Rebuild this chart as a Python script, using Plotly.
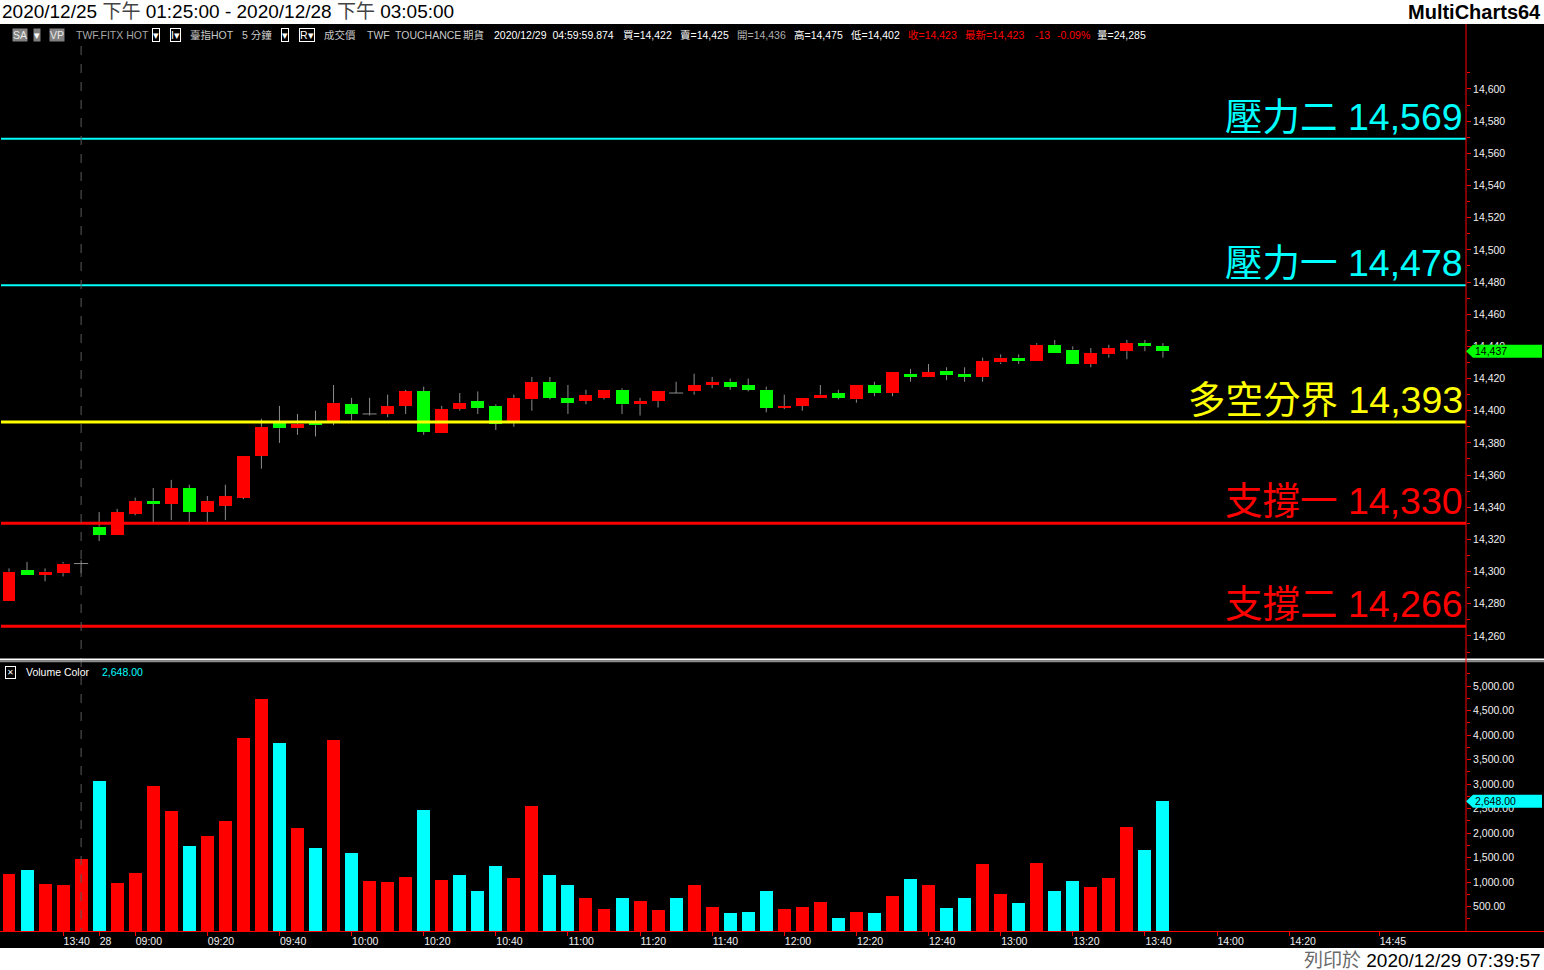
import plotly.graph_objects as go

W, H = 1544, 970

# ---------------- data ----------------
opens = [14282, 14301, 14298, 14299, 14305, 14328, 14323, 14336, 14344, 14342,
         14352, 14337, 14341, 14346, 14372, 14393, 14389, 14393, 14393, 14404,
         14398, 14398, 14403, 14412, 14386, 14401, 14406, 14403, 14393, 14407,
         14418, 14408, 14406, 14408, 14413, 14404, 14406, 14411, 14412, 14416,
         14418, 14416, 14413, 14402, 14403, 14408, 14411, 14407, 14416, 14411,
         14423, 14421, 14425, 14423, 14421, 14430, 14433, 14431, 14441, 14438,
         14429, 14435, 14437, 14442, 14440]
highs = [14302, 14306, 14302, 14306, 14307, 14337, 14339, 14346, 14352, 14357,
         14354, 14347, 14354, 14372, 14395, 14403, 14398, 14400, 14416, 14408,
         14408, 14410, 14413, 14415, 14403, 14411, 14412, 14404, 14410, 14421,
         14421, 14416, 14413, 14413, 14414, 14408, 14412, 14418, 14423, 14421,
         14420, 14420, 14415, 14410, 14408, 14416, 14413, 14416, 14418, 14424,
         14426, 14429, 14427, 14427, 14433, 14435, 14435, 14442, 14444, 14440,
         14439, 14441, 14444, 14444, 14442]
lows = [14282, 14298, 14294, 14297, 14299, 14319, 14323, 14335, 14330, 14332,
        14330, 14330, 14332, 14345, 14364, 14380, 14385, 14384, 14391, 14394,
        14397, 14396, 14398, 14385, 14386, 14400, 14398, 14388, 14390, 14400,
        14407, 14398, 14404, 14407, 14398, 14397, 14402, 14411, 14410, 14414,
        14413, 14412, 14399, 14401, 14400, 14408, 14407, 14405, 14409, 14409,
        14418, 14421, 14419, 14418, 14418, 14429, 14429, 14431, 14436, 14429,
        14427, 14433, 14432, 14437, 14433]
closes = [14300, 14298, 14300, 14305, 14305, 14323, 14337, 14344, 14342, 14352,
          14337, 14344, 14347, 14372, 14390, 14389, 14392, 14391, 14405, 14398,
          14398, 14403, 14412, 14387, 14401, 14405, 14402, 14392, 14408, 14418,
          14408, 14405, 14410, 14413, 14404, 14406, 14412, 14411, 14416, 14418,
          14415, 14413, 14402, 14403, 14408, 14410, 14408, 14416, 14411, 14424,
          14421, 14424, 14422, 14421, 14431, 14433, 14431, 14441, 14436, 14429,
          14436, 14439, 14442, 14440, 14437]
volumes = [1170, 1245, 960, 940, 1470, 3063, 980, 1184, 2960, 2450,
           1735, 1940, 2245, 3940, 4735, 3840, 2100, 1695, 3900, 1590,
           1020, 1000, 1100, 2470, 1040, 1140, 816, 1327, 1080, 2550,
           1140, 940, 673, 449, 673, 612, 428, 673, 940, 490,
           367, 388, 816, 449, 490, 592, 265, 388, 367, 714,
           1060, 940, 470, 673, 1367, 755, 571, 1387, 816, 1020,
           898, 1080, 2122, 1652, 2648]
# volume bar direction as coloured in the picture (1 = up/red, 0 = down/cyan)
vol_up = [1, 0, 1, 1, 1, 0, 1, 1, 1, 1,
          0, 1, 1, 1, 1, 0, 1, 0, 1, 0,
          1, 1, 1, 0, 1, 0, 0, 0, 1, 1,
          0, 0, 1, 1, 0, 1, 1, 0, 1, 1,
          0, 0, 0, 1, 1, 1, 0, 1, 0, 1,
          0, 1, 0, 0, 1, 1, 0, 1, 0, 0,
          1, 1, 1, 0, 0]
tick_bars = [3, 5, 7, 11, 15, 19, 23, 27, 31, 35, 39, 43, 47, 51, 55, 59, 63, 67, 71, 76]
tick_labels = ["13:40", "28", "09:00", "09:20", "09:40", "10:00", "10:20", "10:40",
               "11:00", "11:20", "11:40", "12:00", "12:20", "12:40", "13:00", "13:20",
               "13:40", "14:00", "14:20", "14:45"]
level_names = ["壓力二", "壓力一", "多空分界", "支撐一", "支撐二"]
level_values = [14569, 14478, 14393, 14330, 14266]
last_price = 14437
last_volume = 2648
session_break_bar = 4

# ---------------- styling helpers ----------------
RED, GREEN, CYAN, YELLOW = "#FF0000", "#00FF00", "#00FFFF", "#FFFF00"
WICK = "#8C8C8C"
level_colors = [CYAN, CYAN, YELLOW, RED, RED]
level_widths = [2, 2, 3, 3, 3]
FONT = "Liberation Sans, Arial, Noto Sans CJK TC, sans-serif"


def px(x):
    return x / W


def py(y):
    return 1 - y / H


n = len(opens)
idx = list(range(n))
spacing = 18.03
x_lo = -9 / spacing
x_hi = x_lo + 1466 / spacing
price_top_px, price_bot_px = 60, 658
price_range = [14246.3, 14618.0]
vol_top_px, vol_bot_px = 663, 931
vol_range = [0, 5474]
body_w = 0.72

fig = go.Figure()

# wicks (drawn as two segments so bodies are not crossed)
wx, wy = [], []
for i in idx:
    top, bot = max(opens[i], closes[i]), min(opens[i], closes[i])
    if highs[i] > top:
        wx += [i, i, None]
        wy += [top, highs[i], None]
    if lows[i] < bot:
        wx += [i, i, None]
        wy += [lows[i], bot, None]
    if opens[i] == closes[i]:
        wx += [i - 0.39, i + 0.39, None]
        wy += [opens[i], opens[i], None]
fig.add_trace(go.Scatter(x=wx, y=wy, mode="lines", line=dict(color=WICK, width=1),
                         hoverinfo="skip", showlegend=False, xaxis="x", yaxis="y"))

bx, bbase, bh, bc = [], [], [], []
for i in idx:
    if opens[i] != closes[i]:
        bx.append(i)
        bbase.append(min(opens[i], closes[i]))
        bh.append(abs(closes[i] - opens[i]))
        bc.append(RED if closes[i] > opens[i] else GREEN)
fig.add_trace(go.Bar(x=bx, y=bh, base=bbase, width=body_w, marker=dict(color=bc, line=dict(width=0)),
                     showlegend=False, xaxis="x", yaxis="y"))

vcol = [RED if u else CYAN for u in vol_up]
fig.add_trace(go.Bar(x=idx, y=volumes, width=body_w, marker=dict(color=vcol, line=dict(width=0)),
                     showlegend=False, xaxis="x2", yaxis="y2"))

shapes = [
    dict(type="rect", xref="paper", yref="paper", x0=0, x1=1, y0=py(948), y1=py(24),
         fillcolor="black", line=dict(width=0), layer="below"),
]
for v, c, w in zip(level_values, level_colors, level_widths):
    shapes.append(dict(type="line", xref="paper", yref="y", x0=px(1), x1=px(1466), y0=v, y1=v,
                       line=dict(color=c, width=w)))
shapes += [
    dict(type="line", xref="x2", yref="paper", x0=session_break_bar, x1=session_break_bar,
         y0=py(46), y1=py(931), line=dict(color="#5A5A5A", width=1, dash="dash")),
    dict(type="line", xref="paper", yref="paper", x0=0, x1=1, y0=py(659.5), y1=py(659.5),
         line=dict(color="#FFFFFF", width=2)),
    dict(type="line", xref="paper", yref="paper", x0=0, x1=1, y0=py(661.5), y1=py(661.5),
         line=dict(color="#8A8A8A", width=1.5)),
    dict(type="line", xref="paper", yref="paper", x0=px(1466), x1=px(1466), y0=py(931), y1=py(24),
         line=dict(color=RED, width=1)),
    dict(type="line", xref="paper", yref="paper", x0=0, x1=1, y0=py(931.5), y1=py(931.5),
         line=dict(color=RED, width=1)),
]

# last price / last volume tags (half height 6.5 px, converted to axis units)
ph = 6.5 * (price_range[1] - price_range[0]) / (price_bot_px - price_top_px)
vh = 6.5 * (vol_range[1] - vol_range[0]) / (vol_bot_px - vol_top_px)


def tag_path(yc, hh):
    return (f"M {px(1466)},{yc} L {px(1473)},{yc + hh} L {px(1542)},{yc + hh} "
            f"L {px(1542)},{yc - hh} L {px(1473)},{yc - hh} Z")


shapes.append(dict(type="path", xref="paper", yref="y", path=tag_path(last_price, ph),
                   fillcolor=GREEN, line=dict(width=0), layer="above"))
shapes.append(dict(type="path", xref="paper", yref="y2", path=tag_path(last_volume, vh),
                   fillcolor=CYAN, line=dict(width=0), layer="above"))

ann = []
# title bar
ann.append(dict(x=0, y=py(12), xref="paper", yref="paper", xanchor="left", yanchor="middle",
                text="2020/12/25 <span style='color:#444444'>下午</span> 01:25:00 - 2020/12/28 "
                     "<span style='color:#444444'>下午</span> 03:05:00",
                font=dict(family=FONT, size=19, color="black"), showarrow=False))
ann.append(dict(x=px(1543), y=py(12), xref="paper", yref="paper", xanchor="right", yanchor="middle",
                text="<b>MultiCharts64</b>", font=dict(family=FONT, size=20, color="black"),
                showarrow=False))
ann.append(dict(x=px(1543), y=py(960), xref="paper", yref="paper", xanchor="right", yanchor="middle",
                text="<span style='color:#6A6A6A'>列印於</span> 2020/12/29 07:39:57",
                font=dict(family=FONT, size=19, color="black"), showarrow=False))

# info bar
info = [
    (12, "SA", "#E8E8E8", "#808080", None),
    (33, "▾", "#FFFFFF", "#808080", None),
    (49, "VP", "#E8E8E8", "#808080", None),
    (75, "TWF.FITX HOT", "#A8A8A8", None, None),
    (152, "▾", "#FFFFFF", "#000000", "#FFFFFF"),
    (170, "I▾", "#FFFFFF", "#000000", "#FFFFFF"),
    (189, "臺指HOT", "#C8C8C8", None, None),
    (241, "5 分鐘", "#C8C8C8", None, None),
    (281, "▾", "#FFFFFF", "#000000", "#FFFFFF"),
    (299, "R▾", "#FFFFFF", "#000000", "#FFFFFF"),
    (323, "成交價", "#C8C8C8", None, None),
    (366, "TWF", "#C8C8C8", None, None),
    (394, "TOUCHANCE", "#C8C8C8", None, None),
    (462, "期貨", "#C8C8C8", None, None),
    (493, "2020/12/29  04:59:59.874", "#FFFFFF", None, None),
    (622, "買=14,422", "#FFFFFF", None, None),
    (679, "賣=14,425", "#FFFFFF", None, None),
    (736, "開=14,436", "#B0B0B0", None, None),
    (793, "高=14,475", "#FFFFFF", None, None),
    (850, "低=14,402", "#FFFFFF", None, None),
    (907, "收=14,423", RED, None, None),
    (964, "最新=14,423", RED, None, None),
    (1034, "-13", RED, None, None),
    (1056, "-0.09%", RED, None, None),
    (1096, "量=24,285", "#FFFFFF", None, None),
]
for x, t, c, bg, bd in info:
    a = dict(x=px(x), y=py(35), xref="paper", yref="paper", xanchor="left", yanchor="middle",
             text=t, font=dict(family=FONT, size=10.5, color=c), showarrow=False, borderpad=0)
    if bg:
        a["bgcolor"] = bg
    if bd:
        a["bordercolor"] = bd
        a["borderwidth"] = 1
    ann.append(a)

# level labels
for name, v, c in zip(level_names, level_values, level_colors):
    ann.append(dict(x=px(1464), y=v, xref="paper", yref="y", xanchor="right", yanchor="bottom",
                    yshift=-3, borderpad=0,
                    text=f"<span style='font-family:Noto Sans CJK TC'>{name}</span> {v:,}",
                    font=dict(family=FONT, size=37.5, color=c), showarrow=False))

# tag texts
ann.append(dict(x=px(1474), y=last_price, xref="paper", yref="y", xanchor="left", yanchor="middle",
                text=f"{last_price:,}", font=dict(family=FONT, size=10.5, color="#000000"),
                showarrow=False, borderpad=0))
ann.append(dict(x=px(1474), y=last_volume, xref="paper", yref="y2", xanchor="left", yanchor="middle",
                text=f"{last_volume:,.2f}", font=dict(family=FONT, size=10.5, color="#000000"),
                showarrow=False, borderpad=0))

# volume panel header
ann.append(dict(x=px(5), y=py(672), xref="paper", yref="paper", xanchor="left", yanchor="middle",
                text="✕", font=dict(family="DejaVu Sans", size=8, color="#FFFFFF"), showarrow=False,
                bordercolor="#FFFFFF", borderwidth=1, borderpad=1))
ann.append(dict(x=px(24), y=py(672), xref="paper", yref="paper", xanchor="left", yanchor="middle",
                text="Volume Color", font=dict(family=FONT, size=10.5, color="#FFFFFF"), showarrow=False))
ann.append(dict(x=px(100), y=py(672), xref="paper", yref="paper", xanchor="left", yanchor="middle",
                text=f"{last_volume:,.2f}", font=dict(family=FONT, size=10.5, color=CYAN),
                showarrow=False))

axis_font = dict(family=FONT, size=10.5, color="#F0F0F0")
fig.update_layout(
    width=W, height=H, margin=dict(l=0, r=0, t=0, b=0),
    paper_bgcolor="white", plot_bgcolor="black",
    barmode="overlay", bargap=0, showlegend=False, hovermode=False,
    xaxis=dict(domain=[0, px(1466)], range=[x_lo, x_hi], anchor="y", matches="x2",
               showticklabels=False, showgrid=False, zeroline=False, showline=False, ticks=""),
    yaxis=dict(domain=[py(price_bot_px), py(price_top_px)], range=price_range, anchor="x", side="right",
               showgrid=False, zeroline=False, showline=False, ticks="outside", ticklen=4,
               tickcolor=RED, tickwidth=1, tick0=14000, dtick=20, tickformat=",d",
               tickfont=axis_font,
               minor=dict(ticks="outside", ticklen=3, tickcolor=RED, dtick=10, showgrid=False)),
    xaxis2=dict(domain=[0, px(1466)], range=[x_lo, x_hi], anchor="y2",
                tickmode="array", tickvals=tick_bars, ticktext=tick_labels,
                ticks="outside", ticklen=4, tickcolor=RED, ticklabelposition="outside right",
                tickfont=dict(family=FONT, size=10.5, color="#F0F0F0"),
                showgrid=False, zeroline=False, showline=False),
    yaxis2=dict(domain=[py(vol_bot_px), py(vol_top_px)], range=vol_range, anchor="x2", side="right",
                showgrid=False, zeroline=False, showline=False, ticks="outside", ticklen=4,
                tickcolor=RED, tickmode="array", tickvals=list(range(500, 5001, 500)),
                tickformat=",.2f", tickfont=axis_font,
                minor=dict(ticks="outside", ticklen=3, tickcolor=RED, tickmode="linear",
                           tick0=0, dtick=250, showgrid=False)),
    shapes=shapes, annotations=ann,
)

fig.write_html("out.html", config={"displayModeBar": False},
               post_script="document.body.style.margin='0px';document.body.style.overflow='hidden';")
